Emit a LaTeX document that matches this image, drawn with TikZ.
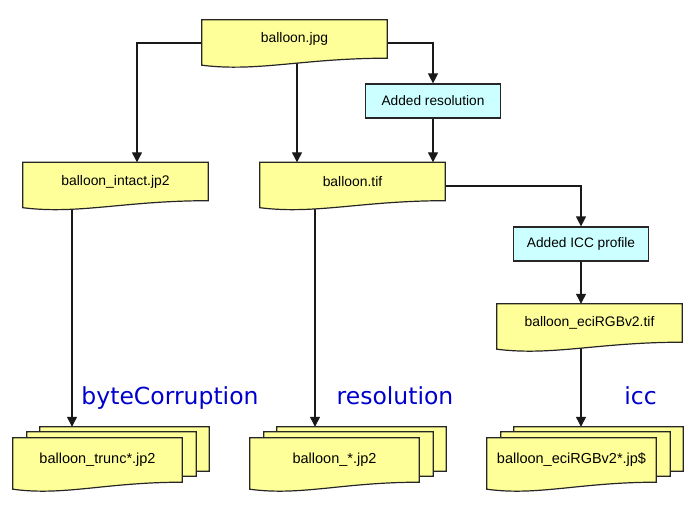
\documentclass[tikz,border=0pt]{standalone}
\usepackage{fontspec}
\setmainfont{Liberation Sans}
\newfontfamily\labelfont{DejaVu Sans}
\usetikzlibrary{positioning, calc, arrows.meta}
\definecolor{docyellow}{RGB}{255,255,153}
\definecolor{stepcyan}{RGB}{204,255,255}
\definecolor{labelblue}{RGB}{0,0,204}
\pgfdeclarelayer{lines}
\pgfdeclarelayer{shapes}
\pgfsetlayers{lines,shapes,main}

\tikzset{
  file/.style={minimum width=185pt, minimum height=38pt, inner sep=0pt, font=\fontsize{13.9}{16}\selectfont},
  sheet/.style={minimum width=169pt, minimum height=44pt, inner sep=0pt, font=\fontsize{14.5}{17}\selectfont},
  action/.style={draw=black!85, line width=1.2pt, fill=stepcyan, minimum width=135pt, minimum height=34pt, inner sep=0pt, font=\fontsize{13.7}{16}\selectfont},
  flow/.style={draw=black!90, line width=1.2pt, -{Triangle[width=10pt,length=10pt]}},
  tool/.style={text=labelblue, anchor=base, font=\labelfont\fontsize{23.5}{28}\selectfont},
}

% document outline with a wavy bottom edge
\newcommand\docshape[1]{%
  \filldraw[fill=docyellow, draw=black!85, line width=1.2pt]
    (#1.north west) -- (#1.north east) -- (#1.south east)
    .. controls ($(#1.south east)!0.45!(#1.south west)$) and ($(#1.south east)!0.7!(#1.south west)+(0,14)$)
    .. ($(#1.south west)+(0,7)$) -- cycle;}

\begin{document}
\begin{tikzpicture}[x=1pt, y=-1pt]
    \useasboundingbox (0,0) rectangle (700,527);

    % files
    \node[file] (jpg) at (294.5,39) {balloon.jpg};
    \node[action] (addres) at (433,101) {Added resolution};
    \node[file] (intact) at (115.5,181.5) {balloon\_intact.jp2};
    \node[file] (tif) at (352.5,181.5) {balloon.tif};
    \node[action] (addicc) at (581,244) {Added ICC profile};
    \node[file] (eci) at (589.5,323) {balloon\_eciRGBv2.tif};

    % stacks of output files
    \node[sheet] (trunc) at (97.5,460) {balloon\_trunc*.jp2};
    \node[sheet] (reso) at (334.5,460) {balloon\_*.jp2};
    \node[sheet] (ecijp) at (571.5,460) {balloon\_eciRGBv2*.jp\$};
    \foreach \n in {trunc, reso, ecijp} {
        \node[sheet, anchor=north west] (\n-m) at ([xshift=14pt,yshift=6pt]\n.north west) {};
        \node[sheet, anchor=north west] (\n-b) at ([xshift=27pt,yshift=11pt]\n.north west) {};
    }

    % tool labels
    \node[tool] (lbyte) at (170,404.5) {byteCorruption};
    \node[tool] (lres) at (395,404.5) {resolution};
    \node[tool] (licc) at (640.5,404.5) {icc};

    \begin{pgfonlayer}{shapes}
        \foreach \n in {jpg, intact, tif, eci, trunc-b, trunc-m, trunc, reso-b, reso-m, reso, ecijp-b, ecijp-m, ecijp}
            \docshape{\n};
    \end{pgfonlayer}

    % connectors
    \begin{pgfonlayer}{lines}
        \coordinate (jpgdown) at ([xshift=2.5pt]jpg.south);
        \coordinate (intactdown) at ([xshift=-43.5pt]intact.south);
        \coordinate (tifdown) at ([xshift=-37.5pt]tif.south);
        \draw[flow] ([yshift=-4pt]jpg.west) -| ([xshift=21.5pt]intact.north);
        \draw[flow] (jpgdown) -- (jpgdown |- tif.north);
        \draw[flow] ([yshift=-4pt]jpg.east) -| (addres.north);
        \draw[flow] (addres.south) -- (addres.south |- tif.north);
        \draw[flow] ([yshift=-4.5pt]tif.east) -| (addicc.north);
        \draw[flow] (addicc.south) -- (addicc.south |- eci.north);
        \draw[flow] (intactdown) -- (intactdown |- trunc-b.north);
        \draw[flow] (tifdown) -- (tifdown |- reso-b.north);
        \draw[flow] (addicc.south |- eci.south) -- (addicc.south |- ecijp-b.north);
    \end{pgfonlayer}
\end{tikzpicture}
\end{document}
